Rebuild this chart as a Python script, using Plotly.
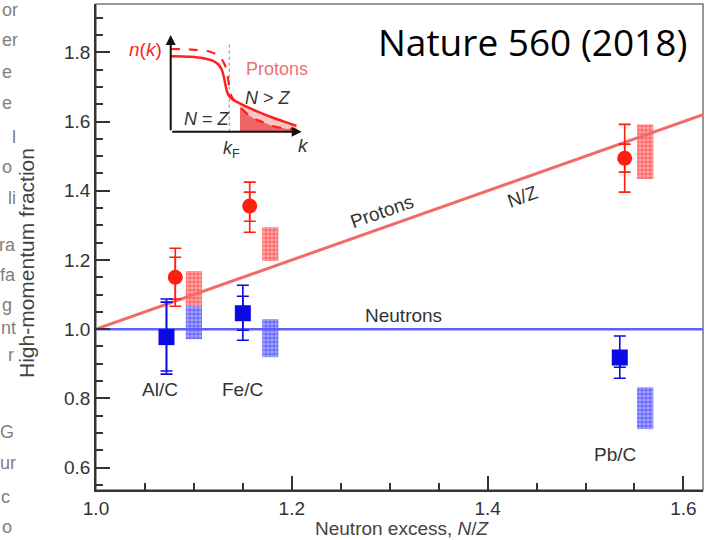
import math
import plotly.graph_objects as go

# ---------------------------------------------------------------
# High-momentum fractions relative to carbon
# ---------------------------------------------------------------
targets = ["Al/C", "Fe/C", "Pb/C"]

# protons
p_nz = [1.081, 1.157, 1.540]
p_val = [1.150, 1.356, 1.494]
p_tot_hi = [1.234, 1.425, 1.592]
p_tot_lo = [1.066, 1.280, 1.396]
p_stat_hi = [1.208, 1.396, 1.535]
p_stat_lo = [1.087, 1.312, 1.454]

# neutrons
n_nz = [1.072, 1.150, 1.535]
n_val = [0.977, 1.046, 0.918]
n_tot_hi = [1.087, 1.127, 0.980]
n_tot_lo = [0.870, 0.968, 0.858]
n_stat_hi = [1.078, 1.095, 0.934]
n_stat_lo = [0.879, 0.997, 0.890]

# model bands (hatched boxes)
band_nz = [1.100, 1.178, 1.561]
p_band_lo = [1.066, 1.197, 1.434]
p_band_hi = [1.168, 1.295, 1.592]
n_band_lo = [0.971, 0.919, 0.711]
n_band_hi = [1.066, 1.029, 0.832]

# reference lines: protons scale as N/Z, neutrons stay at 1
line_nz = [1.0, 1.62]
proton_line = [1.0, 1.62]
neutron_line = [1.0, 1.0]

# inset sketch: momentum distribution n(k)
solid_k = [0.0, 0.15, 0.25, 0.32, 0.36, 0.39, 0.41, 0.425, 0.44, 0.475,
           0.53, 0.58, 0.65, 0.76, 0.86, 0.96]
solid_n = [0.78, 0.775, 0.76, 0.735, 0.70, 0.64, 0.54, 0.44, 0.38, 0.33,
           0.29, 0.258, 0.215, 0.155, 0.107, 0.06]
dashed_k = [0.0, 0.15, 0.30, 0.376, 0.41, 0.427, 0.447, 0.466, 0.529,
            0.58, 0.631, 0.70, 0.758, 0.86, 0.962]
dashed_n = [0.855, 0.85, 0.827, 0.776, 0.70, 0.638, 0.465, 0.362, 0.259,
            0.19, 0.139, 0.10, 0.069, 0.035, 0.018]
k_fermi = 0.447
k_shade = 0.529

# margin text from the neighbouring column
side_text = ["or", "er", "e", "e", "l", "o", "li", "ra", "fa", "g",
             "nt", "r", "G", "ur", "c", "o"]

# ---------------------------------------------------------------
RED = "#ff1f0f"
RED_LINE = "#f26a6a"
BLUE = "#0a0ae6"
BLUE_LINE = "#5f5fff"
INK = "#333333"
FONT = "Liberation Sans, Arial, sans-serif"

W, H = 706, 540
ML, MR, MT, MB = 96, 3, 4, 50
XR = [1.0, 1.62]
YR = [0.535, 1.94]
PW, PH = W - ML - MR, H - MT - MB


def px_to_paper(px, py):
    return (px - ML) / PW, (H - MB - py) / PH


fig = go.Figure()

# reference lines
fig.add_trace(go.Scatter(x=line_nz, y=neutron_line, mode="lines",
                         line=dict(color=BLUE_LINE, width=2.5),
                         hoverinfo="skip"))
fig.add_trace(go.Scatter(x=line_nz, y=proton_line, mode="lines",
                         line=dict(color=RED_LINE, width=3),
                         hoverinfo="skip"))

# hatched model bands
band_w = 0.0165
fig.add_trace(go.Bar(
    x=band_nz, base=p_band_lo,
    y=[h - l for h, l in zip(p_band_hi, p_band_lo)],
    width=band_w,
    marker=dict(color="#ff8f8f", line=dict(width=0),
                pattern=dict(shape=".", fgcolor="#ff2a2a", bgcolor="#ffa0a0",
                             size=4, solidity=0.5, fillmode="overlay")),
    hoverinfo="skip"))
fig.add_trace(go.Bar(
    x=band_nz, base=n_band_lo,
    y=[h - l for h, l in zip(n_band_hi, n_band_lo)],
    width=band_w,
    marker=dict(color="#8f8fff", line=dict(width=0),
                pattern=dict(shape=".", fgcolor="#2a2aff", bgcolor="#a0a0ff",
                             size=4, solidity=0.5, fillmode="overlay")),
    hoverinfo="skip"))


def errs(hi, lo, val):
    return ([h - v for h, v in zip(hi, val)], [v - l for l, v in zip(lo, val)])


def add_points(xs, ys, tot_hi, tot_lo, st_hi, st_lo, color, symbol, size):
    for hi, lo in ((tot_hi, tot_lo), (st_hi, st_lo)):
        up, dn = errs(hi, lo, ys)
        fig.add_trace(go.Scatter(
            x=xs, y=ys, mode="markers",
            marker=dict(size=1, color="rgba(0,0,0,0)"),
            error_y=dict(type="data", symmetric=False, array=up, arrayminus=dn,
                         color=color, thickness=1.6, width=6),
            hoverinfo="skip"))
    fig.add_trace(go.Scatter(
        x=xs, y=ys, mode="markers",
        marker=dict(size=size, color=color, symbol=symbol, line=dict(width=0)),
        hoverinfo="skip"))


add_points(p_nz, p_val, p_tot_hi, p_tot_lo, p_stat_hi, p_stat_lo,
           RED, "circle", 15)
add_points(n_nz, n_val, n_tot_hi, n_tot_lo, n_stat_hi, n_stat_lo,
           BLUE, "square", 16)

# ---------------- inset ----------------
ix0, iy0 = px_to_paper(170.7, 131.7)
ix1, iy1 = px_to_paper(301.7, 35.0)
shade_sk = [k for k in solid_k if k >= k_shade]
shade_sn = [n for k, n in zip(solid_k, solid_n) if k >= k_shade]
shade_dk = [k for k in dashed_k if k >= k_shade]
shade_dn = [n for k, n in zip(dashed_k, dashed_n) if k >= k_shade]

fig.add_trace(go.Scatter(x=shade_sk, y=shade_sn, xaxis="x2", yaxis="y2",
                         mode="lines", line=dict(width=0, shape="spline"),
                         fill="tozeroy", fillcolor="#f9c6c6", hoverinfo="skip"))
fig.add_trace(go.Scatter(x=shade_dk, y=shade_dn, xaxis="x2", yaxis="y2",
                         mode="lines", line=dict(width=0, shape="spline"),
                         fill="tozeroy", fillcolor="#f06464", hoverinfo="skip"))
fig.add_trace(go.Scatter(x=[k_fermi, k_fermi], y=[0, 0.92], xaxis="x2", yaxis="y2",
                         mode="lines", line=dict(color="#888888", width=1, dash="dot"),
                         hoverinfo="skip"))
fig.add_trace(go.Scatter(x=solid_k, y=solid_n, xaxis="x2", yaxis="y2",
                         mode="lines", line=dict(color="#ff2020", width=2.5,
                                                 shape="spline", smoothing=0.8),
                         hoverinfo="skip"))
fig.add_trace(go.Scatter(x=dashed_k, y=dashed_n, xaxis="x2", yaxis="y2",
                         mode="lines", line=dict(color="#ff2020", width=2.2,
                                                 dash="dash", shape="spline",
                                                 smoothing=0.8),
                         hoverinfo="skip"))


def inset_pos(k, n):
    return ix0 + k * (ix1 - ix0), iy0 + n * (iy1 - iy0)


annotations = []


def label(text, x, y, size=19, color=INK, family=FONT, xref="x", yref="y",
          angle=0, xanchor="center"):
    annotations.append(dict(x=x, y=y, xref=xref, yref=yref, text=text,
                            showarrow=False, textangle=angle,
                            xanchor=xanchor, yanchor="middle",
                            font=dict(size=size, color=color, family=family)))


# inset axes with arrows
for hx, hy in ((0, 1), (1, 0)):
    annotations.append(dict(x=hx, y=hy, ax=0, ay=0, xref="x2", yref="y2",
                            axref="x2", ayref="y2", text="", showarrow=True,
                            arrowhead=2, arrowsize=1, arrowwidth=2,
                            arrowcolor="#111111", standoff=0, startstandoff=0))

inset_labels = [
    ("<i>n</i>(<i>k</i>)", -0.19, 0.852, "#ff2020", 19),
    ("Protons", 0.81, 0.645, "#f07070", 18),
    ("<i>N</i> &gt; <i>Z</i>", 0.745, 0.352, INK, 18),
    ("<i>N</i> = <i>Z</i>", 0.275, 0.128, INK, 18),
    ("<i>k</i><sub>F</sub>", 0.466, -0.18, INK, 18),
    ("<i>k</i>", 1.01, -0.14, INK, 19),
]
for txt, k, n, col, sz in inset_labels:
    px, py = inset_pos(k, n)
    label(txt, px, py, size=sz, color=col, xref="paper", yref="paper")

# labels along the reference lines
slope_deg = math.degrees(math.atan((PH / (YR[1] - YR[0])) / (PW / (XR[1] - XR[0]))))
label("Protons", 1.292, 1.341, angle=-slope_deg)
label("N/Z", 1.436, 1.384, angle=-slope_deg)
label("Neutrons", 1.314, 1.040)

# target labels
for txt, x, y in zip(targets, [1.065, 1.150, 1.530], [0.827, 0.827, 0.639]):
    label(txt, x, y)

# journal reference
nx, ny = px_to_paper(532, 42)
label("Nature 560 (2018)", nx, ny, size=37, color="#000000",
      family="Open Sans, Lato, sans-serif", xref="paper", yref="paper")

# axis titles
tx, ty = px_to_paper(402, 528)
label("Neutron excess, <i>N</i>/<i>Z</i>", tx, ty, color="#444444",
      xref="paper", yref="paper")
tx, ty = px_to_paper(26, 263)
label("High-momentum fraction", tx, ty, size=21, color="#444444",
      xref="paper", yref="paper", angle=-90)

# cut-off text from the neighbouring column
side_y = [10, 40, 72, 103, 137, 167, 198, 245, 275, 305, 328, 355, 432, 463, 497, 527]
side_right = [20, 20, 14, 14, 18, 14, 18, 18, 18, 14, 18, 16, 16, 18, 12, 14]
for txt, yy, xr in zip(side_text, side_y, side_right):
    px, py = px_to_paper(xr, yy)
    label(txt, px, py, size=18, color="#808080", xref="paper", yref="paper",
          xanchor="right")

axis_common = dict(
    showgrid=False, zeroline=False, showline=True, linecolor=INK, linewidth=1.5,
    ticks="inside", ticklen=14, tickwidth=1.5, tickcolor=INK,
    tickfont=dict(size=19, color=INK, family=FONT), tickformat=".1f",
)

fig.update_layout(
    width=W, height=H,
    margin=dict(l=ML, r=MR, t=MT, b=MB),
    plot_bgcolor="white", paper_bgcolor="white",
    showlegend=False, barmode="overlay",
    xaxis=dict(range=XR, tick0=1.0, dtick=0.2,
               minor=dict(dtick=0.05, ticks="inside", ticklen=7, tickwidth=1.5,
                          tickcolor=INK, showgrid=False),
               **axis_common),
    yaxis=dict(range=YR, tick0=0.6, dtick=0.2,
               minor=dict(dtick=0.05, ticks="inside", ticklen=7, tickwidth=1.5,
                          tickcolor=INK, showgrid=False),
               **axis_common),
    xaxis2=dict(domain=[ix0, ix1], range=[0, 1], anchor="y2", visible=False,
                fixedrange=True),
    yaxis2=dict(domain=[iy0, iy1], range=[0, 1], anchor="x2", visible=False,
                fixedrange=True),
    shapes=[dict(type="rect", xref="paper", yref="paper", x0=0, x1=1, y0=0, y1=1,
                 line=dict(color="#777777", width=1.5), layer="below")],
    annotations=annotations,
)

fig.write_html("out.html")
